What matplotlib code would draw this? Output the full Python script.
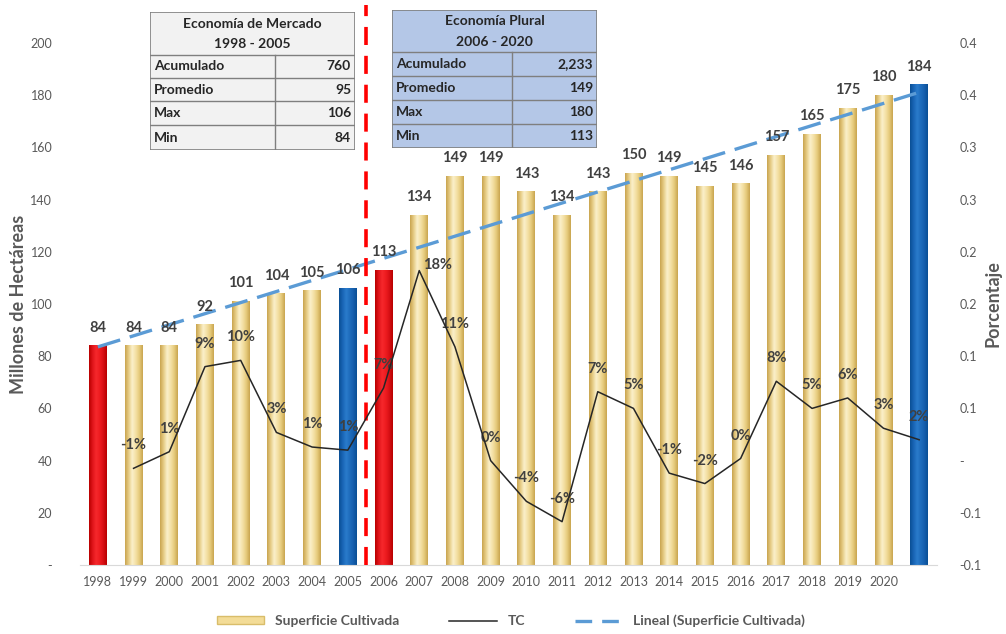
import numpy as np
import matplotlib
matplotlib.use("Agg")
import matplotlib.pyplot as plt
from matplotlib.colors import LinearSegmentedColormap
from matplotlib.patches import Rectangle, Patch
from matplotlib.lines import Line2D

plt.rcParams['font.family'] = ['Lato', 'DejaVu Sans']

# ---------------- data ----------------
years = ['1998', '1999', '2000', '2001', '2002', '2003', '2004', '2005', '2006', '2007',
         '2008', '2009', '2010', '2011', '2012', '2013', '2014', '2015', '2016', '2017',
         '2018', '2019', '2020', '']
superficie = [84, 84, 84, 92, 101, 104, 105, 106, 113, 134, 149, 149, 143, 134, 143,
              150, 149, 145, 146, 157, 165, 175, 180, 184]
bar_kind = ['red', 'y', 'y', 'y', 'y', 'y', 'y', 'blue', 'red', 'y', 'y', 'y', 'y', 'y',
            'y', 'y', 'y', 'y', 'y', 'y', 'y', 'y', 'y', 'blue']
tc = [-0.0074, 0.0085, 0.090, 0.096, 0.027, 0.013, 0.010, 0.0695, 0.182, 0.109, 0.0,
      -0.039, -0.0585, 0.066, 0.050, -0.012, -0.022, 0.002, 0.076, 0.050, 0.060, 0.031, 0.020]
left_ticks = [0, 20, 40, 60, 80, 100, 120, 140, 160, 180, 200]
left_ticklabels = ['-', '20', '40', '60', '80', '100', '120', '140', '160', '180', '200']
right_ticks = [-0.10, -0.05, 0.0, 0.05, 0.10, 0.15, 0.20, 0.25, 0.30, 0.35, 0.40]
right_ticklabels = ['-0.1', '-0.1', '-', '0.1', '0.1', '0.2', '0.2', '0.3', '0.3', '0.4', '0.4']

table1_title = ['Economía de Mercado', '1998 - 2005']
table1_rows = ['Acumulado', 'Promedio', 'Max', 'Min']
table1_vals = ['760', '95', '106', '84']
table2_title = ['Economía Plural', '2006 - 2020']
table2_rows = ['Acumulado', 'Promedio', 'Max', 'Min']
table2_vals = ['2,233', '149', '180', '113']

# ---------------- figure ----------------
W, H = 1006, 634
fig = plt.figure(figsize=(W / 100, H / 100), dpi=100)
fig.patch.set_facecolor('white')

def fr(x0, y0, x1, y1):
    return [x0 / W, 1 - y1 / H, (x1 - x0) / W, (y1 - y0) / H]

ax = fig.add_axes(fr(80, 43, 937, 565))
x = np.arange(len(superficie))

grad_stops = {
    'y': ['#C9A550', '#E6CC85', '#FBF0CA', '#F4E1A6', '#E6CB7C', '#C9A550'],
    'red': ['#B80000', '#E0151A', '#F6282C', '#EE1C20', '#D81015', '#B80000'],
    'blue': ['#0A4F95', '#1965B6', '#2A7BCB', '#1F6DBD', '#165FAE', '#0A4F95'],
}
flat = {'y': '#F3DC97', 'red': '#E8161B', 'blue': '#1D6FC2'}
bw = 0.5
bars = ax.bar(x, superficie, width=bw, color=[flat[k] for k in bar_kind], zorder=2)
for rect, k in zip(bars, bar_kind):
    cmap = LinearSegmentedColormap.from_list('g' + k, grad_stops[k])
    g = cmap(np.linspace(0, 1, 64))[None, :, :]
    x0 = rect.get_x(); w = rect.get_width(); h = rect.get_height()
    ax.imshow(g, extent=[x0, x0 + w, 0, h], aspect='auto', zorder=2.1, interpolation='bilinear')

# value labels
for xi, v in zip(x, superficie):
    ax.annotate(f'{v}', (xi, v), xytext=(0, 13), textcoords='offset points',
                ha='center', va='center', fontsize=10.5, fontweight='bold', color='#404040', zorder=6)

# trend line (linear fit)
coef = np.polyfit(x, superficie, 1)
trend = np.polyval(coef, x)
ax.plot(x, trend, color='#5B9BD5', lw=2.4, dashes=(7, 3), zorder=4)

ax.set_xlim(-0.5, len(x) - 0.5)
ax.set_ylim(0, 200)
ax.set_xticks(x)
ax.set_xticklabels(years, fontsize=9, color='#595959')
ax.set_yticks(left_ticks)
ax.set_yticklabels(left_ticklabels, fontsize=9, color='#595959')
ax.tick_params(axis='both', length=0)
ax.tick_params(axis='y', pad=20)
ax.tick_params(axis='x', pad=8)
for s in ['top', 'right', 'left']:
    ax.spines[s].set_visible(False)
ax.spines['bottom'].set_color('#D9D9D9')
ax.set_ylabel('Millones de Hectáreas', fontsize=13, fontweight='bold', color='#595959')
ax.yaxis.set_label_coords((27 - 80) / 857, 0.5)

# red divider
ax.axvline(7.5, ymin=0, ymax=(565 - 5) / 522, color='#FF0000', lw=2.6, dashes=(5, 3),
           clip_on=False, zorder=5)

# TC line on secondary axis
ax2 = ax.twinx()
ax2.set_ylim(-0.1, 0.4)
xt = x[1:]
ax2.plot(xt, tc, color='#262626', lw=1.1, zorder=5)
for xi, v in zip(xt, tc):
    off = (0, 16.5)
    if xi == 9:
        off = (13, 4)
    ax2.annotate(f'{v:.0%}', (xi, v), xytext=off, textcoords='offset points',
                 ha='center', va='center', fontsize=10.5, fontweight='bold', color='#404040')
ax2.set_yticks(right_ticks)
ax2.set_yticklabels(right_ticklabels, fontsize=9, color='#595959')
ax2.tick_params(axis='y', length=0, pad=16)
for s in ['top', 'right', 'left', 'bottom']:
    ax2.spines[s].set_visible(False)
ax2.set_ylabel('Porcentaje', fontsize=13, fontweight='bold', color='#595959')
ax2.yaxis.set_label_coords((984 - 80) / 857, 0.5)
ax2.set_xlim(-0.5, len(x) - 0.5)

# ---------------- tables ----------------
def draw_table(box, split, row_edges, title, rows, vals, bg):
    x0, y0, x1, y1 = box
    tax = fig.add_axes(fr(x0, y0, x1, y1))
    w, h = x1 - x0, y1 - y0
    tax.set_xlim(0, w); tax.set_ylim(h, 0)
    tax.axis('off')
    tax.add_patch(Rectangle((0, 0), w, h, facecolor=bg, edgecolor='#7F7F7F', lw=1.2))
    hdr = row_edges[0] - y0
    tax.text(w / 2, hdr * 0.27, title[0], ha='center', va='center', fontsize=10,
             fontweight='bold', color='#262626')
    tax.text(w / 2, hdr * 0.75, title[1], ha='center', va='center', fontsize=10,
             fontweight='bold', color='#262626')
    edges = [e - y0 for e in row_edges]
    for e in edges[:-1]:
        tax.plot([0, w], [e, e], color='#7F7F7F', lw=1.0)
    tax.plot([split - x0, split - x0], [edges[0], h], color='#7F7F7F', lw=1.0)
    for i, (r, v) in enumerate(zip(rows, vals)):
        yc = (edges[i] + edges[i + 1]) / 2
        tax.text(4, yc, r, ha='left', va='center', fontsize=10, fontweight='bold', color='#262626')
        tax.text(w - 4, yc, v, ha='right', va='center', fontsize=10, fontweight='bold', color='#262626')

draw_table((150, 12, 355, 150), 275, [55, 78, 101, 125, 150], table1_title, table1_rows,
           table1_vals, '#F2F2F2')
draw_table((392, 10, 597, 148), 512, [52, 76, 100, 124, 148], table2_title, table2_rows,
           table2_vals, '#B4C7E7')

# ---------------- legend ----------------
handles = [Patch(facecolor='#F3DC97', edgecolor='#D9BD6A'),
           Line2D([], [], color='#262626', lw=1.1),
           Line2D([], [], color='#5B9BD5', lw=2.4, dashes=(5, 3))]
labels = ['Superficie Cultivada', 'TC', 'Lineal (Superficie Cultivada)']
leg = fig.legend(handles, labels, loc='center', bbox_to_anchor=(0.508, 1 - 621 / H), ncol=3,
                 frameon=False, handlelength=3.4, handleheight=0.5, columnspacing=3.6,
                 prop={'size': 10, 'weight': 'bold'})
for t in leg.get_texts():
    t.set_color('#595959')

fig.savefig('out.png', dpi=100, facecolor='white')
